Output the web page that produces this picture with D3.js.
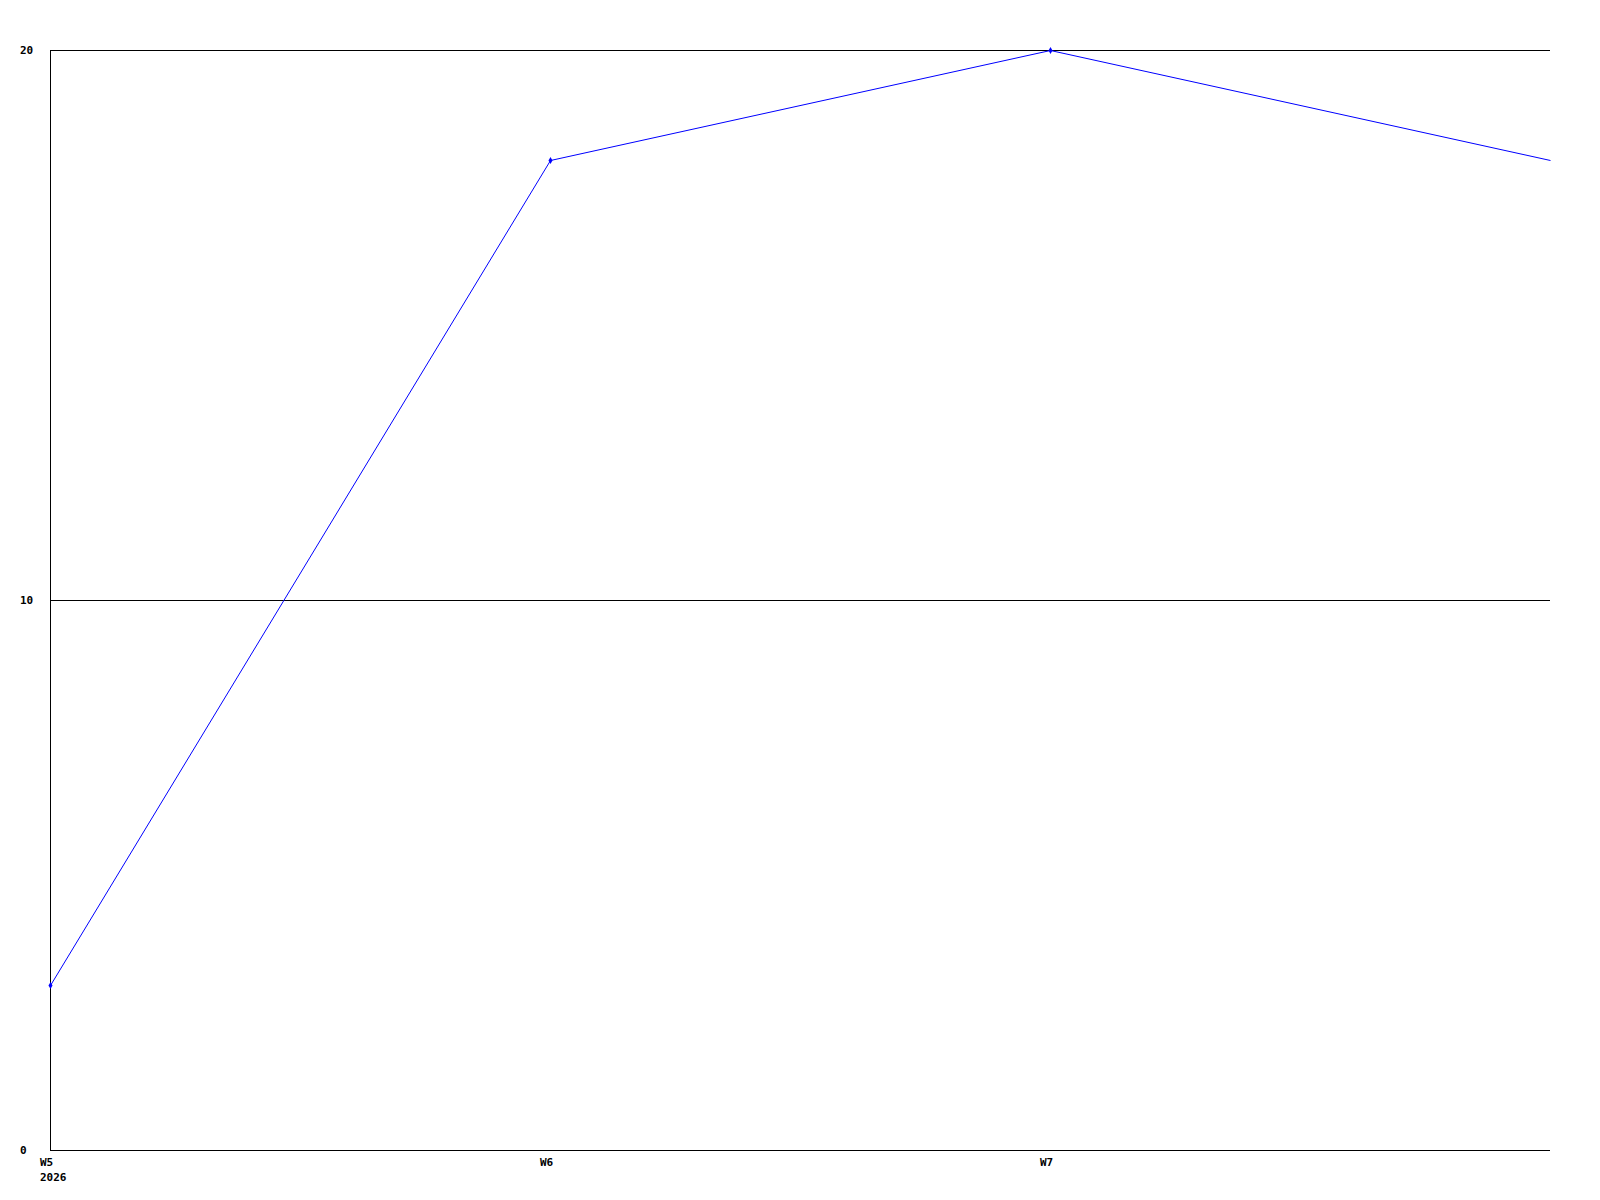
<html>
<head>
<script src="https://d3js.org/d3.v7.min.js"></script>
<style>
  body { margin: 0; background: #fff; }
  text { font-family: "DejaVu Sans Mono", monospace; font-size: 11px; font-weight: bold; fill: #000; }
</style>
</head>
<body>
<script>
// chart data
const weeks = ["W5", "W6", "W7", "W8"];
const values = [3, 18, 20, 18];
const xLabels = ["W5", "W6", "W7"];
const yearLabel = "2026";
const yTicks = [0, 10, 20];

const width = 1600, height = 1200;
const plotLeft = 50, plotRight = 1550, plotTop = 50, plotBottom = 1150;

const svg = d3.select("body").append("svg")
    .attr("width", width)
    .attr("height", height);

const x = d3.scaleLinear().domain([0, weeks.length - 1]).range([plotLeft, plotRight]);
const y = d3.scaleLinear().domain([0, 20]).range([plotBottom, plotTop]);

// grid lines
svg.append("g")
  .selectAll("line")
  .data(yTicks.filter(d => d > 0))
  .enter().append("line")
    .attr("x1", plotLeft).attr("x2", plotRight)
    .attr("y1", d => Math.round(y(d)) + 0.5)
    .attr("y2", d => Math.round(y(d)) + 0.5)
    .attr("stroke", "#000");

// axes
svg.append("line")
  .attr("x1", plotLeft + 0.5).attr("x2", plotLeft + 0.5)
  .attr("y1", plotTop).attr("y2", plotBottom + 1)
  .attr("stroke", "#000");
svg.append("line")
  .attr("x1", plotLeft).attr("x2", plotRight)
  .attr("y1", plotBottom + 0.5).attr("y2", plotBottom + 0.5)
  .attr("stroke", "#000");

// y labels
svg.append("g")
  .selectAll("text")
  .data(yTicks)
  .enter().append("text")
    .attr("x", 20)
    .attr("y", d => y(d) + 4)
    .text(d => d);

// x labels
svg.append("g")
  .selectAll("text")
  .data(xLabels)
  .enter().append("text")
    .attr("x", (d, i) => x(i) - 10)
    .attr("y", plotBottom + 16)
    .text(d => d);
svg.append("text")
  .attr("x", x(0) - 10)
  .attr("y", plotBottom + 31)
  .text(yearLabel);

// line
const line = d3.line()
  .x((d, i) => x(i) + 0.5)
  .y(d => y(d) + 0.5);

svg.append("path")
  .datum(values)
  .attr("fill", "none")
  .attr("stroke", "#0000ff")
  .attr("stroke-width", 1)
  .attr("d", line);

// markers
svg.append("g")
  .selectAll("path")
  .data(values.slice(0, xLabels.length))
  .enter().append("path")
    .attr("transform", (d, i) => "translate(" + (x(i) + 0.5) + "," + (y(d) + 0.5) + ")")
    .attr("d", d3.symbol(d3.symbolDiamond).size(14))
    .attr("fill", "#0000ff");
</script>
</body>
</html>
